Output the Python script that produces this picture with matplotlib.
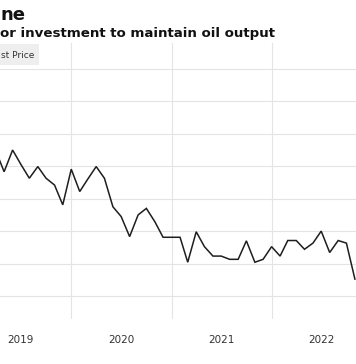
import datetime as dt
import matplotlib
matplotlib.use("Agg")
import matplotlib.pyplot as plt
import matplotlib.dates as mdates
from matplotlib.patches import Rectangle

# Monthly series, Apr 2019 .. Nov 2022
months = [dt.date(2019 + (3 + i) // 12, (3 + i) % 12 + 1, 1) for i in range(44)]
values = [74.7, 68.3, 75.0, 70.6, 66.3, 69.9, 66.3, 64.2, 58.1,
          69.1, 62.2, 66.0, 69.9, 66.3, 57.5, 54.5, 48.3, 55.0, 57.0, 52.9, 48.1,
          48.1, 48.1, 40.4, 49.8, 45.2, 42.3, 42.3, 41.3, 41.3, 47.0, 40.4, 41.3,
          45.2, 42.3, 47.1, 47.1, 44.4, 46.3, 50.0, 43.4, 47.1, 46.3, 35.2]
year_labels = ["2019", "2020", "2021", "2022"]
title_text = "ne"
subtitle_text = "or investment to maintain oil output"
legend_text = "st Price"

W, H = 356, 364
fig = plt.figure(figsize=(W / 100, H / 100), dpi=100)

# plot area: pixel rows 43..319, spans full width
ax = fig.add_axes([0, (H - 319) / H, 1, (319 - 43) / H])
ax.plot(months, values, color="#1e1e1e", linewidth=1.1, solid_joinstyle="miter")

ax.set_xlim(dt.date(2019, 4, 16), dt.date(2022, 11, 5))
ax.set_ylim(22.9, 108)
ax.set_yticks(range(30, 101, 10))
ax.tick_params(axis="y", left=False, labelleft=False)

ax.xaxis.set_major_locator(mdates.YearLocator())
ax.xaxis.set_major_formatter(plt.NullFormatter())
ax.xaxis.set_minor_locator(mdates.MonthLocator(bymonth=7, bymonthday=1))
ax.xaxis.set_minor_formatter(plt.FixedFormatter(year_labels))
ax.tick_params(axis="x", which="both", length=0)
ax.tick_params(axis="x", which="minor", pad=11.5, labelsize=7.5, labelcolor="#333333")

ax.grid(True, which="major", color="#e4e4e4", linewidth=0.8)
ax.set_axisbelow(True)
for s in ax.spines.values():
    s.set_visible(False)

# title / subtitle fragments
fig.text(0, 1 - 14.5 / H, title_text, fontsize=13, fontweight="bold",
         color="#111111", va="center", ha="left")
fig.text(0, 1 - 33 / H, subtitle_text, fontsize=9.6, fontweight="bold",
         color="#111111", va="center", ha="left")

# legend box
fig.patches.append(Rectangle((0, 1 - 65 / H), 39 / W, 21 / H, transform=fig.transFigure,
                             facecolor="#eeeeee", edgecolor="none", zorder=5))
fig.text(1 / W, 1 - 55 / H, legend_text, fontsize=6.5, color="#333333",
         va="center", ha="left", zorder=6)

fig.savefig("out.png", dpi=100)
